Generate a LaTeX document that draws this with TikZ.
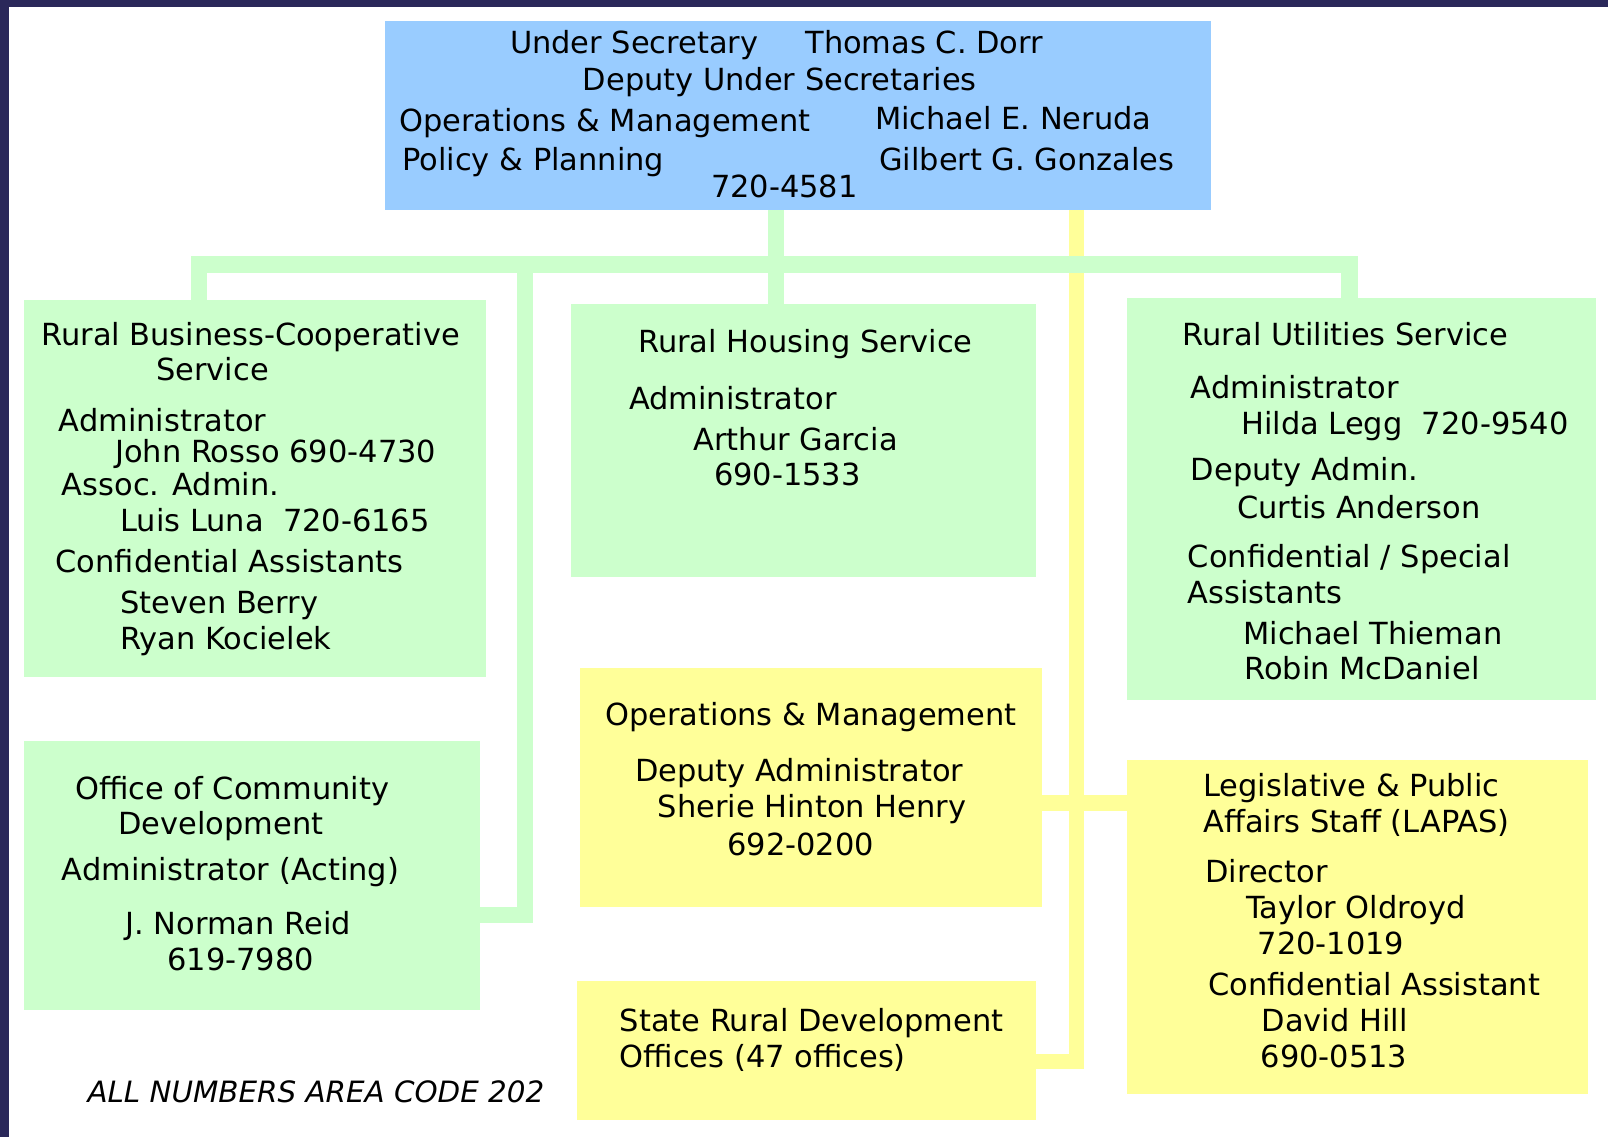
\documentclass[tikz,border=0pt]{standalone}
\usepackage{fontspec}
\setmainfont{DejaVu Sans}
\definecolor{navy}{HTML}{2A285A}
\definecolor{skyb}{HTML}{99CCFF}
\definecolor{mint}{HTML}{CCFFCC}
\definecolor{lemon}{HTML}{FFFF99}
\tikzset{
  box/.style={anchor=north west, inner sep=0pt, outer sep=0pt},
  txt/.style={anchor=base west, inner sep=0pt, font=\fontsize{16.9}{20}\selectfont},
  gline/.style={draw=mint, line width=9pt},
  yline/.style={draw=lemon, line width=8.5pt}
}
\begin{document}
\begin{tikzpicture}[x=0.02cm, y=-0.02cm]
    \useasboundingbox (0,0) rectangle (1568,1109);
    \fill[navy](0,0)rectangle(9,1109);
    \fill[navy](0,0)rectangle(1568,7);
% boxes
    \node[box, fill=skyb, minimum width=16.12cm, minimum height=3.7cm](usec) at (375,20){};
    \node[box, fill=mint, minimum width=9.02cm, minimum height=7.34cm](rbcs) at (23,293){};
    \node[box, fill=mint, minimum width=9.06cm, minimum height=5.34cm](rhs) at (557,296){};
    \node[box, fill=mint, minimum width=9.14cm, minimum height=7.84cm](rus) at (1099,291){};
    \node[box, fill=mint, minimum width=8.9cm, minimum height=5.24cm](ocd) at (23,723){};
    \node[box, fill=lemon, minimum width=9cm, minimum height=4.66cm](opsm) at (566,651){};
    \node[box, fill=lemon, minimum width=8.94cm, minimum height=2.7cm](srdo) at (563,957){};
    \node[box, fill=lemon, minimum width=9cm, minimum height=6.52cm](lapas) at (1099,741){};
% connectors
    \coordinate (ya) at (1050,1035);
    \coordinate (yb) at (1050,783);
    \coordinate (jc) at (757,258);
    \coordinate (jl) at (194,258);
    \coordinate (jr) at (1316,258);
    \coordinate (jt) at (512,258);
    \coordinate (jb) at (512,892);
    \draw[yline](ya |- usec.south)--(ya)--(srdo.east |- ya);
    \draw[yline](opsm.east |- yb)--(lapas.west |- yb);
    \draw[gline](jc |- usec.south)--(jc |- rhs.north);
    \draw[gline](jl |- rbcs.north)--(jl)--(jr)--(jr |- rus.north);
    \draw[gline](jt)--(jb)--(ocd.east |- jb);
% texts
\foreach \x/\y/\lbl [count=\i] in {497/52/Under Secretary, 785/52/Thomas C. Dorr,
    568/88/Deputy Under Secretaries, 389/128/Operations \& Management,
    853/126/Michael E. Neruda, 392/166/Policy \& Planning,
    857/166/Gilbert G. Gonzales, 693/193/720-4581}
{
    \node[txt](u\i) at (\x,\y){\lbl};
}
\foreach \x/\y/\lbl [count=\i] in {40/337/Rural Business-Cooperative, 152/371/Service,
    57/421/Administrator, 112/451/John Rosso 690-4730, 60/483/Assoc. Admin.,
    117/518/Luis Luna\ \ 720-6165, 54/558/Confidential Assistants,
    117/598/Steven Berry, 117/633/Ryan Kocielek}
{
    \node[txt](b\i) at (\x,\y){\lbl};
}
\foreach \x/\y/\lbl [count=\i] in {622/344/Rural Housing Service, 613/399/Administrator,
    676/439/Arthur Garcia, 696/473/690-1533}
{
    \node[txt](h\i) at (\x,\y){\lbl};
}
\foreach \x/\y/\lbl [count=\i] in {1153/337/Rural Utilities Service, 1161/389/Administrator,
    1210/424/Hilda Legg\ \ 720-9540, 1161/469/Deputy Admin., 1206/506/Curtis Anderson,
    1158/553/{Confidential / Special}, 1158/588/Assistants,
    1212/628/Michael Thieman, 1213/663/Robin McDaniel}
{
    \node[txt](r\i) at (\x,\y){\lbl};
}
\foreach \x/\y/\lbl [count=\i] in {590/707/Operations \& Management, 619/762/Deputy Administrator,
    641/797/Sherie Hinton Henry, 709/834/692-0200}
{
    \node[txt](o\i) at (\x,\y){\lbl};
}
\foreach \x/\y/\lbl [count=\i] in {73/780/Office of Community, 115/814/Development,
    60/859/Administrator (Acting), 122/911/J. Norman Reid, 163/946/619-7980}
{
    \node[txt](c\i) at (\x,\y){\lbl};
}
\foreach \x/\y/\lbl [count=\i] in {604/1006/State Rural Development, 604/1041/Offices (47 offices)}
{
    \node[txt](s\i) at (\x,\y){\lbl};
}
\foreach \x/\y/\lbl [count=\i] in {1173/777/Legislative \& Public, 1173/812/Affairs Staff (LAPAS),
    1175/861/Director, 1215/896/Taylor Oldroyd, 1226/931/720-1019,
    1178/971/Confidential Assistant, 1230/1006/David Hill, 1229/1041/690-0513}
{
    \node[txt](l\i) at (\x,\y){\lbl};
}
    \node[txt, font=\fontsize{16.3}{20}\selectfont\itshape](note) at (85,1075){ALL NUMBERS AREA CODE 202};
\end{tikzpicture}
\end{document}
